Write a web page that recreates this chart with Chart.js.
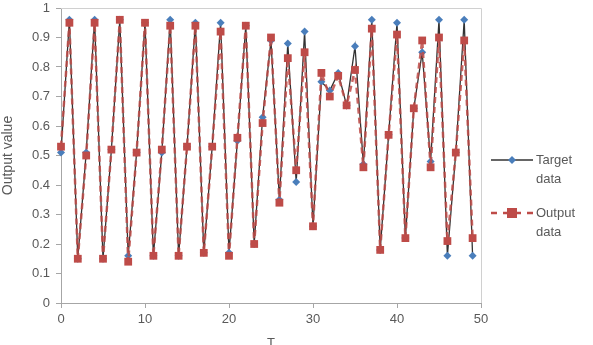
<!DOCTYPE html>
<html>
<head>
<meta charset="utf-8">
<script src="https://cdn.jsdelivr.net/npm/chart.js@4.4.0/dist/chart.umd.min.js"></script>
<style>
  html, body { margin: 0; padding: 0; background: #fff; }
  #wrap { width: 593px; height: 345px; position: relative; }
</style>
</head>
<body>
<div id="wrap"><canvas id="chart"></canvas></div>
<script>
// T steps 0..49
const steps = Array.from({ length: 50 }, (_, i) => i);

const targetData = [
  0.51, 0.96, 0.15, 0.51, 0.96, 0.15, 0.52, 0.96, 0.16, 0.51,
  0.95, 0.16, 0.51, 0.96, 0.16, 0.53, 0.95, 0.17, 0.53, 0.95,
  0.17, 0.55, 0.94, 0.20, 0.63, 0.89, 0.35, 0.88, 0.41, 0.92,
  0.26, 0.75, 0.72, 0.78, 0.67, 0.87, 0.47, 0.96, 0.18, 0.57,
  0.95, 0.22, 0.66, 0.85, 0.48, 0.96, 0.16, 0.51, 0.96, 0.16
];

const outputData = [
  0.53, 0.95, 0.15, 0.50, 0.95, 0.15, 0.52, 0.96, 0.14, 0.51,
  0.95, 0.16, 0.52, 0.94, 0.16, 0.53, 0.94, 0.17, 0.53, 0.92,
  0.16, 0.56, 0.94, 0.20, 0.61, 0.90, 0.34, 0.83, 0.45, 0.85,
  0.26, 0.78, 0.70, 0.77, 0.67, 0.79, 0.46, 0.93, 0.18, 0.57,
  0.91, 0.22, 0.66, 0.89, 0.46, 0.90, 0.21, 0.51, 0.89, 0.22
];

const seriesNames = ['Target data', 'Output data'];
const yTicks = [0, 0.1, 0.2, 0.3, 0.4, 0.5, 0.6, 0.7, 0.8, 0.9, 1];
const xTicks = [0, 10, 20, 30, 40, 50];

const blue = '#4a7ebb';
const red = '#be4b48';
const axisGray = '#a6a6a6';
const textGray = '#595959';
const font = { family: 'Liberation Sans, Arial, sans-serif', size: 13 };

const toPoints = vals => vals.map((v, i) => ({ x: steps[i], y: v }));

// frame on top/right + legend at the right side
const frameAndLegend = {
  id: 'frameAndLegend',
  afterDraw(chart) {
    const { ctx, chartArea: a } = chart;
    ctx.save();
    ctx.strokeStyle = '#d0d0d0';
    ctx.lineWidth = 1;
    ctx.beginPath();
    ctx.moveTo(a.left, a.top + 0.5);
    ctx.lineTo(a.right + 0.5, a.top + 0.5);
    ctx.lineTo(a.right + 0.5, a.bottom);
    ctx.stroke();

    const x0 = a.right + 10;
    const rows = [
      { y: 160, name: seriesNames[0] },
      { y: 213, name: seriesNames[1] }
    ];
    // target entry
    ctx.strokeStyle = '#333';
    ctx.lineWidth = 1.5;
    ctx.beginPath();
    ctx.moveTo(x0, rows[0].y);
    ctx.lineTo(x0 + 42, rows[0].y);
    ctx.stroke();
    ctx.fillStyle = blue;
    ctx.beginPath();
    ctx.moveTo(x0 + 21, rows[0].y - 4);
    ctx.lineTo(x0 + 25, rows[0].y);
    ctx.lineTo(x0 + 21, rows[0].y + 4);
    ctx.lineTo(x0 + 17, rows[0].y);
    ctx.closePath();
    ctx.fill();
    // output entry
    ctx.strokeStyle = red;
    ctx.lineWidth = 2.5;
    ctx.setLineDash([6, 6]);
    ctx.beginPath();
    ctx.moveTo(x0, rows[1].y);
    ctx.lineTo(x0 + 42, rows[1].y);
    ctx.stroke();
    ctx.setLineDash([]);
    ctx.fillStyle = red;
    ctx.fillRect(x0 + 16, rows[1].y - 5, 10, 10);

    ctx.fillStyle = textGray;
    ctx.font = '13px ' + font.family;
    ctx.textBaseline = 'middle';
    rows.forEach(r => {
      const parts = r.name.split(' ');
      ctx.fillText(parts[0], x0 + 45, r.y);
      ctx.fillText(parts[1], x0 + 45, r.y + 19);
    });
    ctx.restore();
  }
};

new Chart(document.getElementById('chart'), {
  type: 'line',
  data: {
    datasets: [
      {
        label: seriesNames[0],
        data: toPoints(targetData),
        borderColor: '#333333',
        borderWidth: 1.3,
        pointStyle: 'rectRot',
        pointRadius: 4,
        pointBackgroundColor: blue,
        pointBorderColor: blue,
        pointBorderWidth: 0,
        tension: 0,
        clip: false,
        order: 2
      },
      {
        label: seriesNames[1],
        data: toPoints(outputData),
        borderColor: 'rgba(190, 75, 72, 0.85)',
        borderWidth: 2.5,
        borderDash: [6, 4],
        pointStyle: 'rect',
        pointRadius: 5.5,
        pointBackgroundColor: red,
        pointBorderColor: red,
        pointBorderWidth: 0,
        tension: 0,
        clip: false,
        order: 1
      }
    ]
  },
  options: {
    responsive: true,
    maintainAspectRatio: false,
    animation: false,
    layout: { padding: { top: 8, right: 112, left: 0, bottom: 0 } },
    plugins: {
      legend: { display: false },
      tooltip: { enabled: false }
    },
    scales: {
      x: {
        type: 'linear',
        min: 0,
        max: 50,
        afterBuildTicks: s => { s.ticks = xTicks.map(v => ({ value: v })); },
        afterFit: s => { s.height = 42; },
        grid: { display: true, drawOnChartArea: false, drawTicks: true, tickLength: 5, color: axisGray },
        border: { color: axisGray },
        ticks: { color: textGray, font: font, padding: 4, maxRotation: 0 },
        title: { display: true, text: 'T', color: textGray, font: font, padding: { top: 10, bottom: -6 } }
      },
      y: {
        min: 0,
        max: 1,
        afterBuildTicks: s => { s.ticks = yTicks.map(v => ({ value: v })); },
        afterFit: s => { s.width = 61; s.paddingTop = 0; s.paddingBottom = 0; },
        grid: { display: true, drawOnChartArea: false, drawTicks: true, tickLength: 5, color: axisGray },
        border: { color: axisGray },
        ticks: { color: textGray, font: font, padding: 6, callback: v => String(Number(v.toFixed(1))) },
        title: { display: true, text: 'Output value', color: textGray, font: { family: font.family, size: 14 }, padding: { top: 0, bottom: 2 } }
      }
    }
  },
  plugins: [frameAndLegend]
});
</script>
</body>
</html>
